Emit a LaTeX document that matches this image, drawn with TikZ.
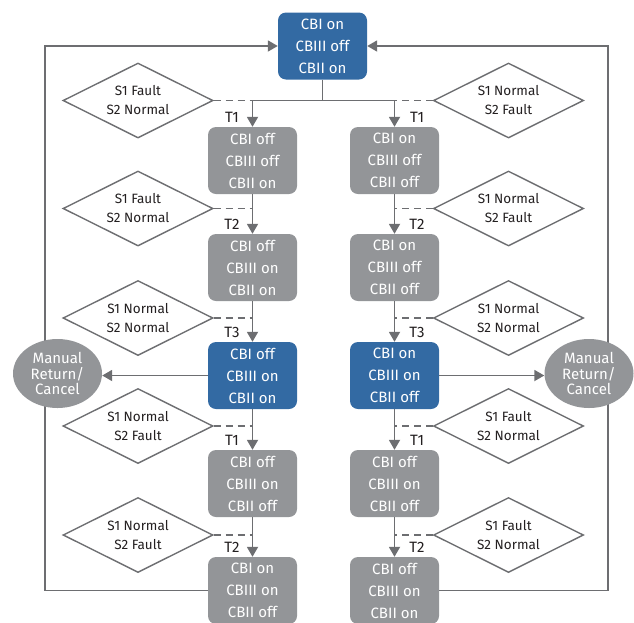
\documentclass[tikz,border=0pt]{standalone}
\usepackage{fontspec}
\setmainfont{Fira Sans}
\usetikzlibrary{shapes.geometric,arrows.meta}
\definecolor{boxblue}{HTML}{336AA3}
\definecolor{boxgray}{HTML}{939598}
\definecolor{linegray}{HTML}{6D6E71}
\definecolor{txtdark}{HTML}{231F20}
\tikzset{
  statebox/.style={rectangle, rounded corners=8pt, minimum width=89pt, minimum height=67pt, inner sep=0pt, align=center, text=white, font=\fontsize{15}{22}\selectfont},
  bluebox/.style={statebox, fill=boxblue},
  graybox/.style={statebox, fill=boxgray},
  cond/.style={diamond, draw=linegray, line width=1.4pt, fill=white, minimum width=150pt, minimum height=75pt, inner sep=0pt, aspect=2, align=center, text=txtdark, font=\fontsize{13.5}{19}\selectfont},
  manual/.style={ellipse, fill=boxgray, minimum width=89pt, minimum height=69pt, inner sep=0pt, align=center, text=white, font=\fontsize{15}{15.5}\selectfont},
  conn/.style={draw=linegray, line width=1.8pt},
  arr/.style={conn, -{Triangle[width=11pt,length=10pt]}},
  dsh/.style={draw=linegray, line width=1.8pt, dash pattern=on 7pt off 5pt},
  tlab/.style={font=\fontsize{15}{15}\selectfont, text=txtdark, inner sep=0pt}
}
\begin{document}
\begin{tikzpicture}[x=1pt,y=-1pt]
\useasboundingbox (0,0) rectangle (634,622);
\clip (0,0) rectangle (634,622);
% state boxes
\node[bluebox] (top) at (322.5,46) {CBI on\\CBIII off\\CBII on};
\node[graybox] (L1) at (252.5,160.5) {CBI off\\CBIII off\\CBII on};
\node[graybox] (L2) at (252.5,267.5) {CBI off\\CBIII on\\CBII on};
\node[bluebox] (L3) at (252.5,375.5) {CBI off\\CBIII on\\CBII on};
\node[graybox] (L4) at (252.5,483.5) {CBI off\\CBIII on\\CBII off};
\node[graybox] (L5) at (252.5,590.5) {CBI on\\CBIII on\\CBII off};
\node[graybox] (R1) at (394.5,160.5) {CBI on\\CBIII off\\CBII off};
\node[graybox] (R2) at (394.5,267.5) {CBI on\\CBIII off\\CBII off};
\node[bluebox] (R3) at (394.5,375.5) {CBI on\\CBIII on\\CBII off};
\node[graybox] (R4) at (394.5,483.5) {CBI off\\CBIII on\\CBII off};
\node[graybox] (R5) at (394.5,590.5) {CBI off\\CBIII on\\CBII on};
% condition diamonds
\node[cond] (DL1) at (138,100.5) {S1 Fault\\S2 Normal};
\node[cond] (DL2) at (138,208.5) {S1 Fault\\S2 Normal};
\node[cond] (DL3) at (138,318) {S1 Normal\\S2 Normal};
\node[cond] (DL4) at (138,426) {S1 Normal\\S2 Fault};
\node[cond] (DL5) at (138,535) {S1 Normal\\S2 Fault};
\node[cond] (DR1) at (508.5,100.5) {S1 Normal\\S2 Fault};
\node[cond] (DR2) at (508.5,208.5) {S1 Normal\\S2 Fault};
\node[cond] (DR3) at (508.5,318) {S1 Normal\\S2 Normal};
\node[cond] (DR4) at (508.5,426) {S1 Fault\\S2 Normal};
\node[cond] (DR5) at (508.5,535) {S1 Fault\\S2 Normal};
% top junction
\coordinate (J) at (322.5,100.5);
\coordinate (JL) at (252.5,100.5);
\coordinate (JR) at (394.5,100.5);
\draw[conn] (top.south) -- (J);
\draw[conn] (JL) -- (JR);
\draw[arr] (JL) -- (L1.north);
\draw[arr] (JR) -- (R1.north);
\draw[dsh] (DL1.east) -- (JL);
\draw[dsh] (DR1.west) -- (JR);
% column arrows
\foreach \a/\b/\d in {L1/L2/DL2,L2/L3/DL3,L3/L4/DL4,L4/L5/DL5}{
  \draw[arr] (\a.south) -- (\b.north);
  \draw[dsh] (\d.east) -- (\d.east -| \a.south);
}
\foreach \a/\b/\d in {R1/R2/DR2,R2/R3/DR3,R3/R4/DR4,R4/R5/DR5}{
  \draw[arr] (\a.south) -- (\b.north);
  \draw[dsh] (\d.west) -- (\d.west -| \a.south);
}
% T labels
\node[tlab] (tl1) at (232,117) {T1};
\node[tlab] (tl2) at (232,224.5) {T2};
\node[tlab] (tl3) at (232,332) {T3};
\node[tlab] (tl4) at (232,440) {T1};
\node[tlab] (tl5) at (232,547) {T2};
\node[tlab] (tr1) at (417,117) {T1};
\node[tlab] (tr2) at (417,224.5) {T2};
\node[tlab] (tr3) at (417,332) {T3};
\node[tlab] (tr4) at (417,440) {T1};
\node[tlab] (tr5) at (417,547) {T2};
% return loops
\coordinate (LL) at (45,46);
\coordinate (RR) at (608,46);
\draw[arr] (L5.west) -| (LL) -- (top.west);
\draw[arr] (R5.east) -| (RR) -- (top.east);
% manual return nodes
\node[manual] (CL) at (57.5,373.5) {Manual\\Return/\\Cancel};
\node[manual] (CR) at (589,373.5) {Manual\\Return/\\Cancel};
\draw[arr] (L3.west) -- (CL.east |- L3.west);
\draw[arr] (R3.east) -- (CR.west |- R3.east);
\end{tikzpicture}
\end{document}
